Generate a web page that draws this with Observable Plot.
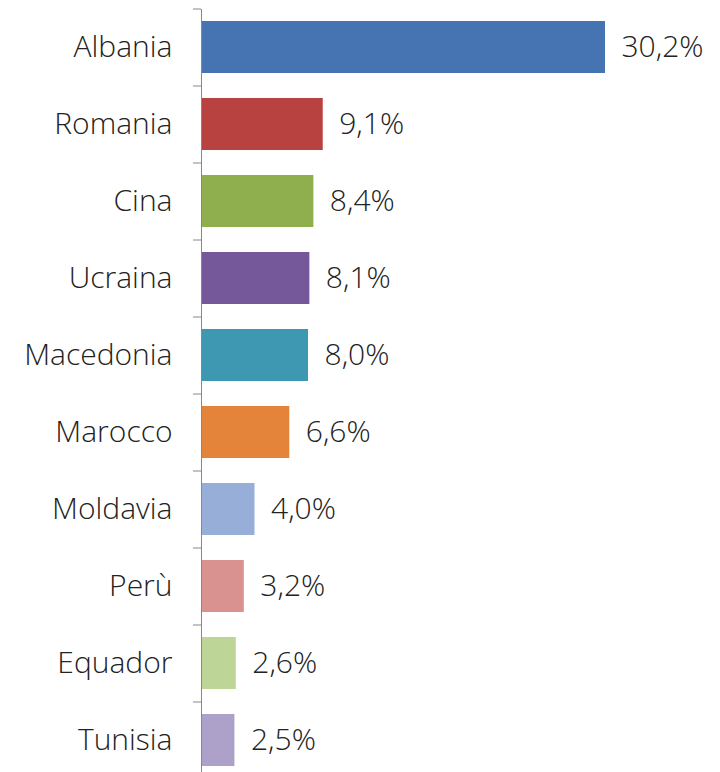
<!DOCTYPE html>
<html><head><meta charset="utf-8">
<script src="https://cdn.jsdelivr.net/npm/d3@7"></script>
<script src="https://cdn.jsdelivr.net/npm/@observablehq/plot@0.6"></script>
<style>body{margin:0;background:#fff;} svg{display:block;}</style>
</head><body><div id="chart"></div>
<script>
const countries = ["Albania","Romania","Cina","Ucraina","Macedonia","Marocco","Moldavia","Perù","Equador","Tunisia"];
const values = [30.2, 9.1, 8.4, 8.1, 8.0, 6.6, 4.0, 3.2, 2.6, 2.5];
const colors = ["#4674B2","#B8423F","#8FAF4F","#75589A","#3F98B2","#E3843A","#97AFD8","#D99290","#BDD597","#AEA1C9"];

const data = countries.map((c,i)=>({country:c, value:values[i], color:colors[i]}));
const fmt = v => v.toFixed(1).replace(".", ",") + "%";

const chart = Plot.plot({
  width: 720, height: 772,
  marginLeft: 201, marginRight: 115, marginTop: 9, marginBottom: 0,
  style: {fontFamily: "'Open Sans', sans-serif", background: "#fff"},
  x: {domain: [0, 30.2], range: [201, 605], axis: null},
  y: {domain: countries, range: [9, 779], paddingInner: 0.32, paddingOuter: 0.16, axis: null},
  marks: [
    Plot.barX(data, {y: "country", x: "value", fill: "color"}),
    Plot.ruleY(data, {y: "country", dy: -38.5, x1: -0.6, x2: 0, stroke: "#888", strokeWidth: 1}),
    Plot.ruleX([0], {stroke: "#888", strokeWidth: 1}),
    Plot.text(data, {y: "country", x: 0, dx: -29, text: "country", textAnchor: "end", fontSize: 30, fontWeight: 300, fill: "#222"}),
    Plot.text(data, {y: "country", x: "value", dx: 16, text: d => fmt(d.value), textAnchor: "start", fontSize: 30, fontWeight: 300, fill: "#222"})
  ]
});
document.getElementById("chart").append(chart);
</script></body></html>
